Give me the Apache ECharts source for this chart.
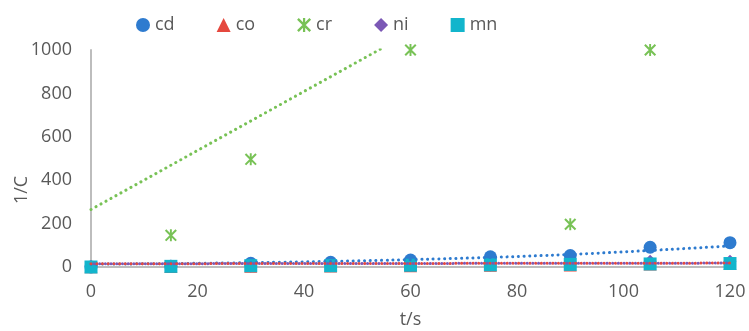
<!DOCTYPE html>
<html>
<head>
<meta charset="utf-8">
<script src="https://cdn.jsdelivr.net/npm/echarts@6/dist/echarts.min.js"></script>
<style>
  html, body { margin: 0; padding: 0; background: #ffffff; }
  #chart { width: 749px; height: 331px; }
</style>
</head>
<body>
<div id="chart"></div>
<script>
// Sampling times (s)
const tVals = [0, 15, 30, 45, 60, 75, 90, 105, 120];

// 1/C per metal at each sampling time (null = no point shown)
const cdVals = [0, 3, 17, 22, 32, 47, 53, 91, 112];
const coVals = [1, 2, 4, 5, 6, 8, 9, 14, 16];
const crVals = [null, 146, 496, null, 1000, null, 197, 1000, null];
const niVals = [2, 3, 5, 6, 7, 9, 11, 26, 27];
const mnVals = [0, 3, 6, 6, 8, 10, 12, 14, 16];

// Trendline readings (times and fitted 1/C values)
const cdFitT = [0, 30, 60, 90, 120];
const cdFit = [13, 20, 34, 58, 97];
const crFitT = [0, 120];
const crFit = [265, 1897];
const lowFitT = [0, 120];
const coFit = [15, 18];
const niFit = [15, 18];

// Axis ticks
const xTicks = { min: 0, max: 120, step: 20 };
const yTicks = { min: 0, max: 1000, step: 200 };

const colors = {
  cd: '#2E7BCF',
  co: '#E5483E',
  cr: '#78C256',
  ni: '#7B58B5',
  mn: '#12B5CC'
};

const starPath = 'path://M4.2 0L5.8 0L5.8 10L4.2 10Z' +
  'M0 1.2L1.2 0L10 8.8L8.8 10Z' +
  'M8.8 0L10 1.2L1.2 10L0 8.8Z';

function pairs(xs, ys) {
  const out = [];
  xs.forEach((x, i) => { if (ys[i] !== null) out.push([x, ys[i]]); });
  return out;
}

function pointSeries(name, vals, symbol, size) {
  return {
    name: name,
    type: 'scatter',
    data: pairs(tVals, vals),
    symbol: symbol,
    symbolSize: size,
    itemStyle: { color: colors[name], opacity: 1 },
    z: 2
  };
}

function fitSeries(name, xs, ys, color, smooth, offset) {
  return {
    name: name,
    type: 'line',
    data: pairs(xs, ys),
    showSymbol: false,
    symbol: 'none',
    smooth: smooth,
    clip: true,
    silent: true,
    lineStyle: {
      color: color,
      width: 3,
      type: [0.1, 5.6],
      dashOffset: offset || 0,
      cap: 'round'
    },
    z: 3
  };
}

const textColor = '#595959';
const font = '"Open Sans", "Liberation Sans", sans-serif';

const chart = echarts.init(document.getElementById('chart'), null, { renderer: 'canvas' });

chart.setOption({
  animation: false,
  backgroundColor: '#ffffff',
  textStyle: { fontFamily: font },
  grid: {
    left: 91, right: 19, top: 50, bottom: 64,
    containLabel: false,
    outerBoundsMode: 'none'
  },
  legend: {
    data: ['cd', 'co', 'cr', 'ni', 'mn'],
    left: 131,
    top: 11,
    itemWidth: 14,
    itemHeight: 14,
    itemGap: 42,
    textStyle: { color: textColor, fontSize: 18, fontFamily: font }
  },
  xAxis: {
    type: 'value',
    min: xTicks.min,
    max: xTicks.max,
    interval: xTicks.step,
    name: 't/s',
    nameLocation: 'middle',
    nameGap: 44,
    nameTextStyle: { color: textColor, fontSize: 18, fontFamily: font },
    axisLine: { show: true, onZero: true, lineStyle: { color: '#BDBDBD', width: 2 } },
    axisTick: { show: false },
    splitLine: { show: false },
    axisLabel: { color: textColor, fontSize: 18, margin: 16, fontFamily: font }
  },
  yAxis: {
    type: 'value',
    min: yTicks.min,
    max: yTicks.max,
    interval: yTicks.step,
    axisLine: { show: true, lineStyle: { color: '#BDBDBD', width: 2 } },
    axisTick: { show: false },
    splitLine: { show: false },
    axisLabel: {
      color: textColor, fontSize: 18, margin: 19, fontFamily: font,
      formatter: (v) => String(v)
    }
  },
  graphic: [{
    type: 'text',
    x: 22,
    y: 190,
    rotation: Math.PI / 2,
    style: {
      text: '1/C',
      fill: textColor,
      font: '18px ' + font,
      align: 'center',
      verticalAlign: 'middle',
      textAlign: 'center',
      textVerticalAlign: 'middle'
    }
  }],
  series: [
    pointSeries('cd', cdVals, 'circle', 13),
    pointSeries('co', coVals, 'triangle', 13),
    pointSeries('cr', crVals, starPath, 12),
    pointSeries('ni', niVals, 'diamond', 13),
    pointSeries('mn', mnVals, 'rect', 13),
    fitSeries('cd fit', cdFitT, cdFit, colors.cd, 0.4, 0),
    fitSeries('cr fit', crFitT, crFit, colors.cr, false, 0),
    fitSeries('co fit', lowFitT, coFit, colors.co, false, 0),
    fitSeries('ni fit', lowFitT, niFit, colors.ni, false, 2.8)
  ]
});
</script>
</body>
</html>
